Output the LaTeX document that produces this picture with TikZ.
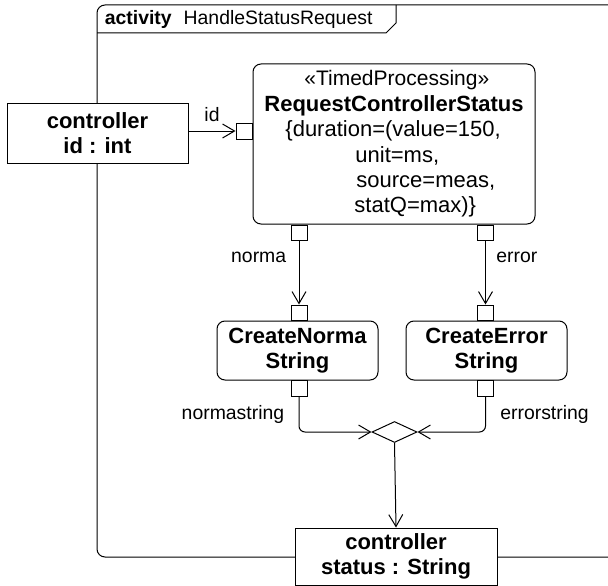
\documentclass[tikz,border=0pt]{standalone}
\usepackage{fontspec}
\setmainfont{Liberation Sans}
\usetikzlibrary{shapes.geometric, positioning, arrows.meta}

\begin{document}
\begin{tikzpicture}[
x=1pt, y=-1pt, line width=1pt,
    objnode/.style={rectangle, draw, fill=white, align=center, inner sep=0pt, font=\fontsize{22}{24.5}\selectfont\bfseries},
    action/.style={rectangle, draw, fill=white, rounded corners=8pt, align=center, inner sep=0pt, font=\fontsize{22}{24.5}\selectfont\bfseries},
    pinbox/.style={rectangle, draw, fill=white, minimum width=16pt, minimum height=16pt, inner sep=0pt},
    merge/.style={diamond, draw, fill=white, aspect=2.1, minimum width=45pt, minimum height=21pt, inner sep=0pt},
    flow/.style={draw, -{Straight Barb[length=12pt, width=14pt]}},
    lbl/.style={font=\fontsize{19.4}{23}\selectfont}
]
\useasboundingbox (0,0) rectangle (608,586);

    % Frame
    \draw[rounded corners=8pt] (612,557) -- (97,557) -- (97,5) -- (612,5);
    \draw (97,33) -- (386,33) -- (396,23) -- (396,5);
    \node[lbl, anchor=west] (title) at (101,19) {\textbf{activity}\hspace{12pt}HandleStatusRequest};

    % Objects
    \node[objnode, minimum width=181pt, minimum height=60pt] (ctrlid) at (97.5,133) {controller\\id : int};
    \node[objnode, minimum width=202pt, minimum height=57pt] (status) at (396,556.5) {controller\\status : String};

    % Actions
    \node[action, minimum width=282pt, minimum height=160pt, align=left, font=\fontsize{22}{25.4}\selectfont] (reqstat) at (394,144)
        {\hspace*{40pt}{\fontsize{21}{25.4}\selectfont «TimedProcessing»}\\\textbf{RequestControllerStatus}\\\hspace*{21pt}\{duration=(value=150,\\\hspace*{91pt}unit=ms,\\\hspace*{92pt}source=meas,\\\hspace*{90pt}statQ=max)\}};
    \node[action, minimum width=161pt, minimum height=59pt] (mknorma) at (297.5,350.5) {CreateNorma\\String};
    \node[action, minimum width=161pt, minimum height=59pt] (mkerror) at (486.5,350.5) {CreateError\\String};

    % Pins
    \node[pinbox] (pinid) at (244,131) {};
    \node[pinbox, minimum height=15pt] (pinnorma) at (299,232.5) {};
    \node[pinbox, minimum height=15pt] (pinerror) at (485.5,232.5) {};
    \node[pinbox, minimum height=15pt] (pinnormain) at (299,312.5) {};
    \node[pinbox, minimum height=15pt] (pinerrorin) at (485.5,312.5) {};
    \node[pinbox] (pinnormaout) at (299,388) {};
    \node[pinbox] (pinerrorout) at (485.5,388) {};

    % Merge
    \node[merge] (join) at (394.5,432) {};

    % Flows
    \draw[flow] (ctrlid.east |- pinid) -- (pinid.west) node[lbl, midway, above=5pt] (lblid) {id};
    \draw[flow] (pinnorma) -- (pinnormain) node[lbl, pos=0.27, left=9pt] (lblnorma) {norma};
    \draw[flow] (pinerror) -- (pinerrorin) node[lbl, pos=0.27, right=7pt] (lblerror) {error};
    \draw[flow, rounded corners=6pt] (pinnormaout.south) |- (join.west) node[lbl, pos=0.25, left=11pt] (lblnormastr) {normastring};
    \draw[flow, rounded corners=6pt] (pinerrorout.south) |- (join.east) node[lbl, pos=0.25, right=11pt] (lblerrorstr) {errorstring};
    \draw[flow] (join.south) -- (status.north);

\end{tikzpicture}
\end{document}
